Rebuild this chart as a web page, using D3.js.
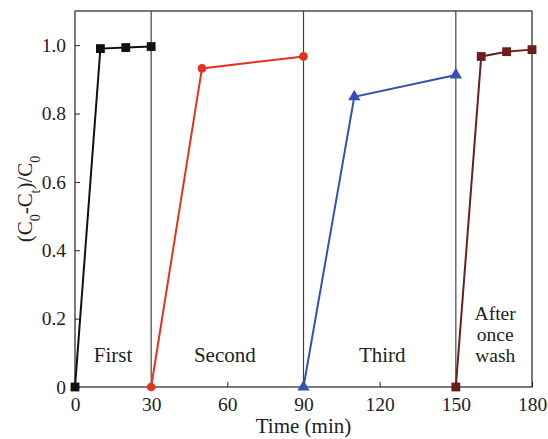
<!DOCTYPE html>
<head>
  <meta charset="utf-8">
  <script src="https://cdn.jsdelivr.net/npm/d3@7"></script>
  <style>
    body { margin: 0; background: #fff; }
    text { font-family: "Liberation Serif", serif; fill: #222; }
  </style>
</head>
<body>
<div id="container"></div>
<script>
  // data
  const firstRun  = [[0, 0], [10, 0.99], [20, 0.993], [30, 0.996]];
  const secondRun = [[30, 0], [50, 0.932], [90, 0.967]];
  const thirdRun  = [[90, 0], [110, 0.849], [150, 0.913]];
  const washedRun = [[150, 0], [160, 0.967], [170, 0.981], [180, 0.987]];
  const dividers = [30, 90, 150];
  const xTicks = [0, 30, 60, 90, 120, 150, 180];
  const yTicks = [0, 0.2, 0.4, 0.6, 0.8, 1.0];

  const width = 548, height = 439;
  const margin = {top: 11, right: 16, bottom: 52, left: 75};

  const svg = d3.select('#container').append('svg')
    .attr('width', width)
    .attr('height', height);

  const x = d3.scaleLinear().domain([0, 180]).range([margin.left, width - margin.right]);
  const y = d3.scaleLinear().domain([0, 1.1]).range([height - margin.bottom, margin.top]);

  // frame
  svg.append('rect')
    .attr('x', margin.left).attr('y', margin.top)
    .attr('width', x(180) - x(0)).attr('height', y(0) - y(1.1))
    .attr('fill', 'none').attr('stroke', '#222').attr('stroke-width', 1.2);

  // axes, ticks pointing inwards
  const xAxis = svg.append('g')
    .attr('transform', `translate(0,${y(0)})`)
    .call(d3.axisBottom(x).tickValues(xTicks).tickSizeInner(-5).tickSizeOuter(0).tickPadding(9));
  const yAxis = svg.append('g')
    .attr('transform', `translate(${x(0)},0)`)
    .call(d3.axisLeft(y).tickValues(yTicks).tickSizeInner(-5).tickSizeOuter(0).tickPadding(9)
      .tickFormat(d => d === 0 ? '0' : d3.format('.1f')(d)));
  [xAxis, yAxis].forEach(a => {
    a.select('.domain').remove();
    a.selectAll('line').attr('stroke', '#222');
    a.selectAll('text').style('font-size', '19.5px').style('font-family', '"Liberation Serif", serif').attr('fill', '#222');
  });
  xAxis.selectAll('text').attr('dy', '0.75em');

  // run dividers
  svg.selectAll('.divider')
    .data(dividers)
    .enter()
    .append('line')
      .attr('x1', d => x(d)).attr('x2', d => x(d))
      .attr('y1', y(1.1)).attr('y2', y(0))
      .attr('stroke', '#444').attr('stroke-width', 1.2);

  const line = d3.line().x(d => x(d[0])).y(d => y(d[1]));

  const series = [
    {data: firstRun, color: '#111111', shape: d3.symbolSquare, size: 78},
    {data: secondRun, color: '#e4321f', shape: d3.symbolCircle, size: 60},
    {data: thirdRun, color: '#3451b2', shape: d3.symbolTriangle, size: 65},
    {data: washedRun, color: '#6b1f1c', shape: d3.symbolSquare, size: 78}
  ];

  series.forEach(s => {
    svg.append('path')
      .attr('d', line(s.data))
      .attr('fill', 'none')
      .attr('stroke', s.color)
      .attr('stroke-width', 2);
    svg.selectAll(null)
      .data(s.data)
      .enter()
      .append('path')
        .attr('transform', d => `translate(${x(d[0])},${y(d[1])})`)
        .attr('d', d3.symbol().type(s.shape).size(s.size))
        .attr('fill', s.color);
  });

  // run labels
  const labels = [
    {t: 'First', at: 15, v: 0.073, fs: 21},
    {t: 'Second', at: 59, v: 0.073, fs: 21},
    {t: 'Third', at: 121, v: 0.073, fs: 21},
    {t: 'After', at: 165.5, v: 0.197, fs: 19.5},
    {t: 'once', at: 165.5, v: 0.135, fs: 19.5},
    {t: 'wash', at: 165.5, v: 0.073, fs: 19.5}
  ];
  svg.selectAll('.run-label')
    .data(labels)
    .enter()
    .append('text')
      .attr('x', d => x(d.at))
      .attr('y', d => y(d.v))
      .attr('text-anchor', 'middle')
      .style('font-size', d => d.fs + 'px')
      .text(d => d.t);

  // axis titles
  svg.append('text')
    .attr('x', (x(0) + x(180)) / 2)
    .attr('y', 433)
    .attr('text-anchor', 'middle')
    .style('font-size', '21px')
    .text('Time (min)');

  const yTitle = svg.append('text')
    .attr('transform', `translate(32,${y(0.55)}) rotate(-90)`)
    .attr('text-anchor', 'middle')
    .style('font-size', '21px');
  yTitle.append('tspan').text('(C');
  yTitle.append('tspan').attr('baseline-shift', 'sub').style('font-size', '14px').text('0');
  yTitle.append('tspan').text('-C');
  yTitle.append('tspan').attr('baseline-shift', 'sub').style('font-size', '14px').text('t');
  yTitle.append('tspan').text(')/C');
  yTitle.append('tspan').attr('baseline-shift', 'sub').style('font-size', '14px').text('0');
</script>
</body>
